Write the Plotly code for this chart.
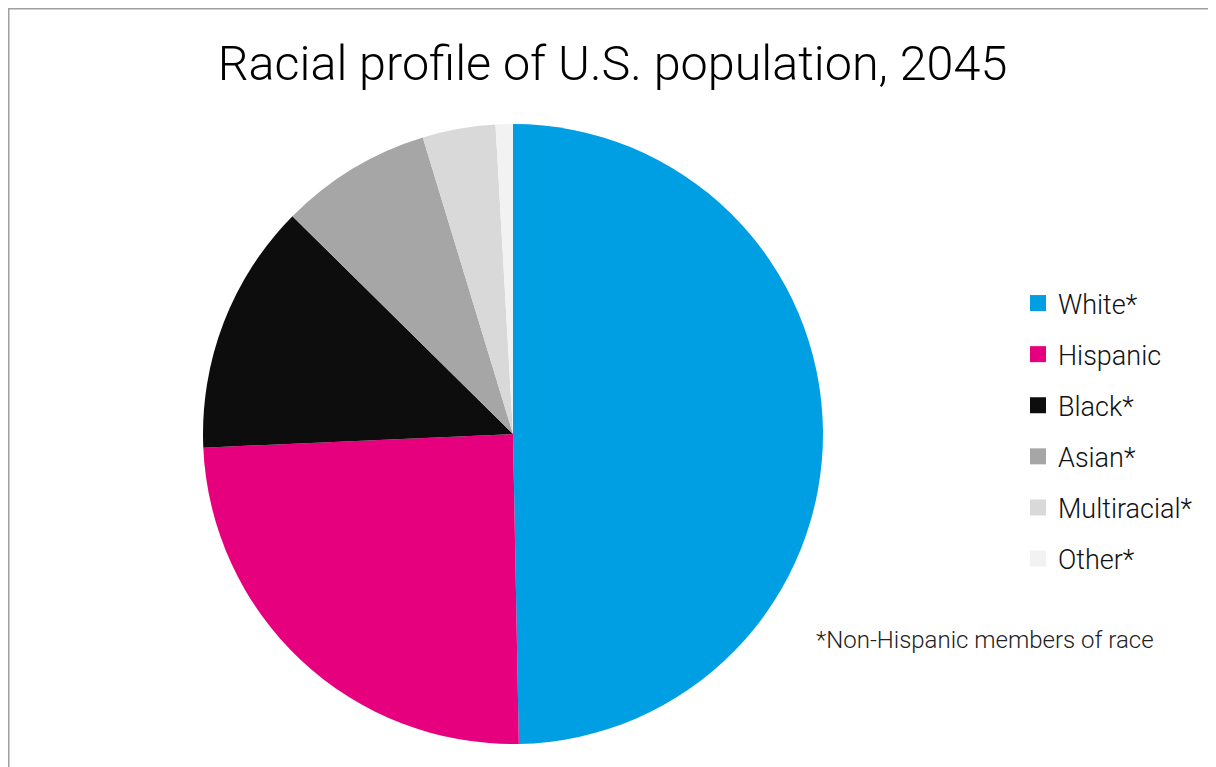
import plotly.graph_objects as go

categories = ["White*", "Hispanic", "Black*", "Asian*", "Multiracial*", "Other*"]
values = [49.7, 24.6, 13.1, 7.9, 3.8, 0.9]
colors = ["#009FE3", "#E6007E", "#0D0D0D", "#A6A6A6", "#D9D9D9", "#F2F2F2"]
title_text = "Racial profile of U.S. population, 2045"
footnote = "*Non-Hispanic members of race"

W, H = 1216, 767
OFF = 8  # page offset of the plot div
FONT = "Roboto"

def px(x):
    return (x - OFF) / W

def py(y):
    return 1 - (y - OFF) / H

fig = go.Figure()
fig.add_trace(go.Pie(
    labels=categories, values=values, sort=False, direction="clockwise",
    rotation=0, marker=dict(colors=colors, line=dict(width=0)),
    textinfo="none", showlegend=False,
    domain=dict(x=[px(203), px(823)], y=[py(744), py(124)]),
))
for c, col in zip(categories, colors):
    fig.add_trace(go.Scatter(
        x=[None], y=[None], mode="markers", name=c, legendgroup=c,
        marker=dict(symbol="square", size=17, color=col),
        showlegend=True, hoverinfo="skip",
    ))

fig.update_layout(
    width=W, height=H,
    margin=dict(l=0, r=0, t=0, b=0),
    paper_bgcolor="white", plot_bgcolor="white",
    xaxis=dict(visible=False), yaxis=dict(visible=False),
    font=dict(family=FONT, color="#111111"),
    title=dict(text=title_text, x=px(612.5), xanchor="center", xref="paper",
               y=py(63), yanchor="middle", yref="paper",
               font=dict(family=FONT, size=48.5, weight=300, color="#000000")),
    legend=dict(x=1010 / W, xanchor="left", y=1 - 271 / H, yanchor="top",
                font=dict(family=FONT, size=27, weight=300, color="#111111"),
                traceorder="grouped", tracegroupgap=13, itemsizing="trace",
                bgcolor="rgba(0,0,0,0)"),
    annotations=[dict(text=footnote, x=px(985), y=py(640), xref="paper", yref="paper",
                      xanchor="center", yanchor="middle", showarrow=False,
                      font=dict(family=FONT, size=24, weight=300, color="#222222"))],
    shapes=[dict(type="rect", xref="paper", yref="paper",
                 x0=0.75 / W, x1=1.05, y0=-0.05, y1=1 - 0.75 / H,
                 line=dict(color="#A0A0A0", width=1.5), fillcolor="rgba(0,0,0,0)",
                 layer="above")],
)
fig.write_html("out.html")
